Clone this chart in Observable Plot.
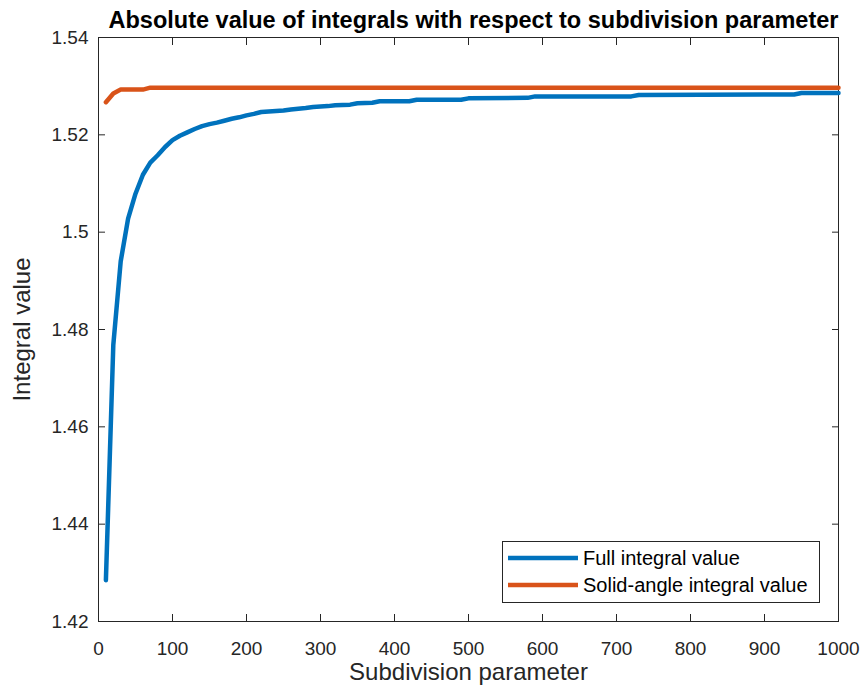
<!DOCTYPE html>
<html>
<head>
<meta charset="utf-8">
<script src="https://cdn.jsdelivr.net/npm/d3@7"></script>
<script src="https://cdn.jsdelivr.net/npm/@observablehq/plot@0.6"></script>
<style>
  html, body { margin: 0; padding: 0; background: #fff; }
  #wrap { position: relative; width: 864px; height: 696px; font-family: "Liberation Sans", Arial, sans-serif; }
  #legend {
    position: absolute; left: 502px; top: 541px; width: 318px; height: 62px;
    border: 1px solid #262626; background: #fff; box-sizing: border-box;
    font-size: 20px; color: #000;
  }
  .row { position: absolute; left: 5px; height: 24px; display: flex; align-items: center; }
  .row svg { margin-right: 5px; }
</style>
</head>
<body>
<div id="wrap"></div>
<script>
// Subdivision parameter and integral values (vertices of each curve)
const fullX = [10, 20, 30, 40, 50, 60, 70, 80, 90, 100, 110, 120, 130, 140, 150, 160, 170, 180, 190, 200,
  210, 220, 230, 250, 260, 280, 290, 300, 310, 320, 340, 350, 370, 380, 420, 430, 490, 500, 580, 590, 720, 730, 940, 950, 1000];
const fullY = [1.4285, 1.4768, 1.4940, 1.5028, 1.5079, 1.5118, 1.5143, 1.5158, 1.5175, 1.5189, 1.5198, 1.5205, 1.5212, 1.5218, 1.5222, 1.5225, 1.5229, 1.5233, 1.5236, 1.5240,
  1.5243, 1.5247, 1.5248, 1.5250, 1.5252, 1.5255, 1.5257, 1.5258, 1.5259, 1.5261, 1.5262, 1.5265, 1.5266, 1.5269, 1.5269, 1.5272, 1.5272, 1.5275, 1.5276, 1.5279, 1.5279, 1.5282, 1.5283, 1.5286, 1.5286];

const solidX = [10, 20, 30, 60, 70, 1000];
const solidY = [1.5267, 1.5285, 1.5293, 1.5293, 1.5297, 1.5297];

const xTicks = [0, 100, 200, 300, 400, 500, 600, 700, 800, 900, 1000];
const yTicks = [1.42, 1.44, 1.46, 1.48, 1.50, 1.52, 1.54];
const yTickLabels = ["1.42", "1.44", "1.46", "1.48", "1.5", "1.52", "1.54"];

const seriesNames = ["Full integral value", "Solid-angle integral value"];
const seriesColors = ["#0072BD", "#D95319"];

const full = fullX.map((x, i) => ({x, y: fullY[i]}));
const solid = solidX.map((x, i) => ({x, y: solidY[i]}));

const axisColor = "#262626";
const font = "Liberation Sans, Arial, sans-serif";

const chart = Plot.plot({
  width: 864,
  height: 696,
  marginLeft: 98,
  marginRight: 26,
  marginTop: 37,
  marginBottom: 75,
  style: {fontFamily: font, fontSize: "19px", color: axisColor, background: "#fff"},
  x: {domain: [0, 1000]},
  y: {domain: [1.42, 1.54]},
  marks: [
    Plot.frame({stroke: axisColor, strokeWidth: 1}),
    Plot.axisX(xTicks, {anchor: "bottom", tickSize: -7, tickPadding: 27, label: null, stroke: axisColor, fill: axisColor,
      tickFormat: (d) => String(d)}),
    Plot.axisX(xTicks, {anchor: "top", tickSize: -7, tickFormat: () => "", label: null, stroke: axisColor}),
    Plot.axisY(yTicks, {anchor: "left", tickSize: -7, tickPadding: 17, label: null, stroke: axisColor, fill: axisColor,
      tickFormat: (d) => yTickLabels[yTicks.indexOf(d)]}),
    Plot.axisY(yTicks, {anchor: "right", tickSize: -7, tickFormat: () => "", label: null, stroke: axisColor}),
    Plot.line(solid, {x: "x", y: "y", stroke: seriesColors[1], strokeWidth: 4.5}),
    Plot.line(full, {x: "x", y: "y", stroke: seriesColors[0], strokeWidth: 4.5}),
    Plot.text(["Absolute value of integrals with respect to subdivision parameter"], {
      frameAnchor: "top", dx: 5, dy: -26, fontSize: 23.5, fontWeight: "bold", fill: "#000"}),
    Plot.text(["Subdivision parameter"], {frameAnchor: "bottom", dy: 58, fontSize: 24, fill: axisColor}),
    Plot.text(["Integral value"], {frameAnchor: "left", textAnchor: "middle", dx: -76, rotate: -90, fontSize: 24, fill: axisColor})
  ]
});

const wrap = document.getElementById("wrap");
wrap.appendChild(chart);

// Legend box inside the lower-right of the axes
const legend = document.createElement("div");
legend.id = "legend";
seriesNames.forEach((name, i) => {
  const row = document.createElement("div");
  row.className = "row";
  row.style.top = (i === 0 ? 4 : 31) + "px";
  row.innerHTML = `<svg width="70" height="20"><line x1="0" x2="70" y1="10" y2="10" stroke="${seriesColors[i]}" stroke-width="4.5"/></svg><span>${name}</span>`;
  legend.appendChild(row);
});
wrap.appendChild(legend);
</script>
</body>
</html>
